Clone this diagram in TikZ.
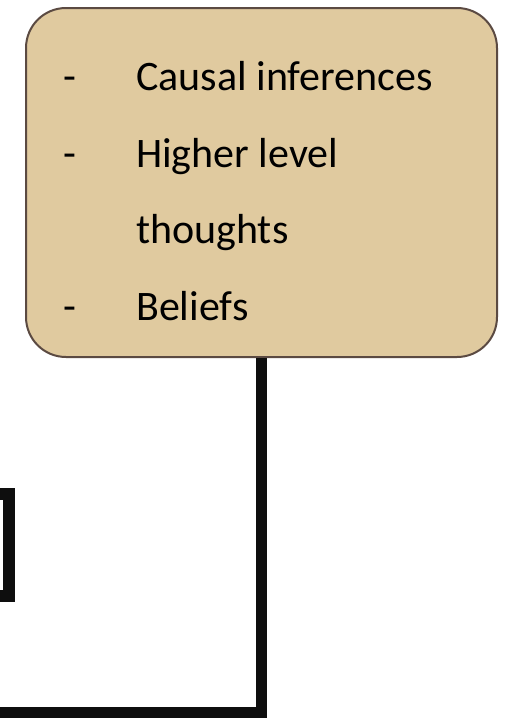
\documentclass[tikz,border=0pt]{standalone}
\usepackage{fontspec}
\setmainfont{Carlito}
\usepackage{tikz}
\usetikzlibrary{positioning}
\definecolor{sand}{HTML}{E0CA9F}
\definecolor{bark}{HTML}{5B4A42}
\definecolor{ink}{HTML}{0E0E0E}

\begin{document}
\begin{tikzpicture}[x=1pt,y=-1pt,
  item/.style={anchor=base west,inner sep=0pt,font=\fontsize{42}{50}\selectfont},
  wire/.style={ink,line width=11.5pt}]
  \useasboundingbox (0,0) rectangle (508,721);
  \clip (0,0) rectangle (508,721);
  % thought box
  \node[draw=bark,line width=2pt,fill=sand,rounded corners=40pt,
        minimum width=471pt,minimum height=349pt] (beliefs) at (261.5,182.5) {};
  \node[item] (d1) at (63,90) {-};  \node[item] (t1) at (136,90) {Causal inferences};
  \node[item] (d2) at (63,167) {-}; \node[item] (t2) at (136,167) {Higher level};
  \node[item] (t3) at (136,243) {thoughts};
  \node[item] (d4) at (63,320) {-}; \node[item] (t4) at (136,320) {Beliefs};
  % box cut off at the left edge
  \node[draw=ink,line width=12pt,minimum width=60pt,minimum height=102pt] (leftbox) at (-21,545) {};
  % connector
  \coordinate (offleft) at (-20,712.5);
  \draw[wire] (beliefs.south) |- (offleft);
\end{tikzpicture}
\end{document}
